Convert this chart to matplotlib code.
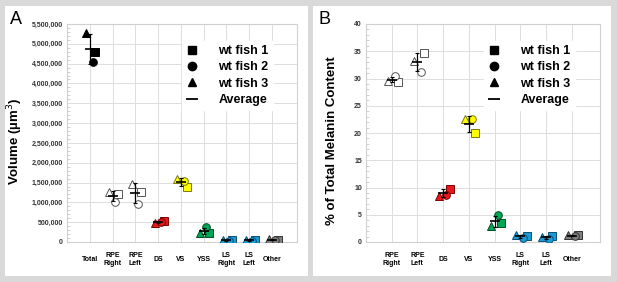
import numpy as np
import matplotlib
matplotlib.use("Agg")
import matplotlib.pyplot as plt
from matplotlib.lines import Line2D
from matplotlib.patches import Rectangle

plt.rcParams['font.family'] = ['Liberation Sans', 'DejaVu Sans']

# ---- data -------------------------------------------------------------
vol_labels = ['Total', 'RPE\nRight', 'RPE\nLeft', 'DS', 'VS', 'YSS',
              'LS\nRight', 'LS\nLeft', 'Other']
vol_fish1 = [4800000, 1200000, 1250000, 540000, 1400000, 220000, 40000, 50000, 60000]
vol_fish2 = [4530000, 1020000, 970000, 510000, 1550000, 370000, 30000, 20000, 50000]
vol_fish3 = [5270000, 1270000, 1470000, 480000, 1600000, 230000, 60000, 60000, 70000]

pct_labels = ['RPE\nRight', 'RPE\nLeft', 'DS', 'VS', 'YSS',
              'LS\nRight', 'LS\nLeft', 'Other']
pct_fish1 = [29.4, 34.6, 9.8, 20.0, 3.4, 1.1, 1.1, 1.2]
pct_fish2 = [30.4, 31.2, 8.7, 22.5, 5.0, 0.8, 0.6, 1.1]
pct_fish3 = [29.6, 33.2, 8.5, 22.5, 3.0, 1.2, 1.0, 1.2]

face_vol = ['black', 'white', 'white', '#e8171b', '#ffff00', '#00a651',
            '#1b9ad6', '#1b9ad6', '#808080']
edge_vol = ['black', '#555555', '#555555', '#7a0000', '#7a7a00', '#004d22',
            '#0b4f75', '#0b4f75', '#333333']
face_pct = face_vol[1:]
edge_pct = edge_vol[1:]

fish_names = ['wt fish 1', 'wt fish 2', 'wt fish 3']
fish_markers = ['s', 'o', '^']
fish_offsets = [0.25, 0.12, -0.15]

# ---- figure -----------------------------------------------------------
W, H = 617, 282
fig = plt.figure(figsize=(W / 100, H / 100), dpi=100)
fig.patch.set_facecolor('#d9d9d9')

for x0, x1 in [(5, 308), (313, 611)]:
    fig.patches.append(Rectangle((x0 / W, 6 / H), (x1 - x0) / W, (276 - 6) / H,
                                 transform=fig.transFigure, facecolor='white',
                                 edgecolor='none', zorder=-5))


def panel(rect, labels, series, faces, edges, ylim, ystep, minor, fmt,
          ylabel, letter, letter_x, ylabel_x, xmax, legend_anchor):
    ax = fig.add_axes(rect)
    ax.set_zorder(1)
    ax.set_facecolor('white')
    n = len(labels)
    xs = np.arange(1, n + 1)

    for vals, mk, off in zip(series, fish_markers, fish_offsets):
        for i in range(n):
            ax.plot(xs[i] + off, vals[i], marker=mk, ms=5.5 if mk != '^' else 6,
                    mfc=faces[i], mec=edges[i], mew=0.7, ls='none', zorder=3)

    data = np.array(series)
    mean = data.mean(axis=0)
    sd = data.std(axis=0, ddof=1)
    ax.errorbar(xs, mean, yerr=sd, fmt='none', ecolor='black', elinewidth=0.9,
                capsize=1.5, capthick=0.8, zorder=4)
    ax.plot(xs, mean, marker='_', ms=7, mew=1.2, color='black', ls='none', zorder=4)

    ax.set_xlim(0, xmax)
    ax.set_ylim(*ylim)
    ax.set_xticks(xs)
    ax.set_xticklabels(labels, fontsize=5, fontweight='bold', linespacing=1.25)
    for t in ax.get_xticklabels():
        t.set_va('center')
    ax.tick_params(axis='x', length=0, pad=12.5)
    yt = np.arange(ylim[0], ylim[1] + ystep / 2, ystep)
    ax.set_yticks(yt)
    ax.set_yticklabels([fmt(v) for v in yt], fontsize=5, fontweight='bold',
                       color='#333333')
    ax.set_yticks(np.arange(ylim[0], ylim[1], minor), minor=True)
    ax.tick_params(axis='y', which='major', length=0, pad=3)
    ax.tick_params(axis='y', which='minor', length=2, width=0.5, color='#bbbbbb',
                   direction='in')
    ax.grid(True, color='#dddddd', lw=0.7, zorder=0)
    ax.set_axisbelow(True)
    for s in ax.spines.values():
        s.set_color('#d0d0d0')
        s.set_linewidth(0.8)
    ax.set_ylabel(ylabel, fontsize=9.5, fontweight='bold')
    ax.yaxis.set_label_coords(ylabel_x, 0.5, transform=fig.transFigure)

    fig.text(letter_x / W, 1 - 19 / H, letter, fontsize=13, va='center',
             ha='left')

    handles = [Line2D([], [], marker=m, color='black', ls='none', ms=6)
               for m in fish_markers]
    handles.append(Line2D([], [], marker='_', color='black', ls='none', ms=8, mew=1.3))
    leg = ax.legend(handles, fish_names + ['Average'], loc='upper left',
                    bbox_to_anchor=legend_anchor, bbox_transform=fig.transFigure,
                    frameon=True, fancybox=False, framealpha=1,
                    edgecolor='white', facecolor='white',
                    prop={'size': 9, 'weight': 'bold'}, handlelength=1.0,
                    handletextpad=1.6, labelspacing=0.35, borderpad=0.3)
    leg.set_zorder(5)
    return ax


def fmt_vol(v):
    return f'{int(v):,}'


def fmt_pct(v):
    return f'{int(v)}'


panel([67 / W, 40 / H, 230 / W, 218 / H], vol_labels,
      [vol_fish1, vol_fish2, vol_fish3], face_vol, edge_vol,
      (0, 5500000), 500000, 100000, fmt_vol, 'Volume (µm$^{3}$)',
      'A', 10, 25 / W, 10.1, (176 / W, 1 - 35 / H))

panel([366 / W, 40 / H, 234 / W, 218 / H], pct_labels,
      [pct_fish1, pct_fish2, pct_fish3], face_pct, edge_pct,
      (0, 40), 5, 1, fmt_pct, '% of Total Melanin Content',
      'B', 319, 338 / W, 9.1, (478 / W, 1 - 35 / H))

fig.savefig('out.png', dpi=100, facecolor=fig.get_facecolor())
